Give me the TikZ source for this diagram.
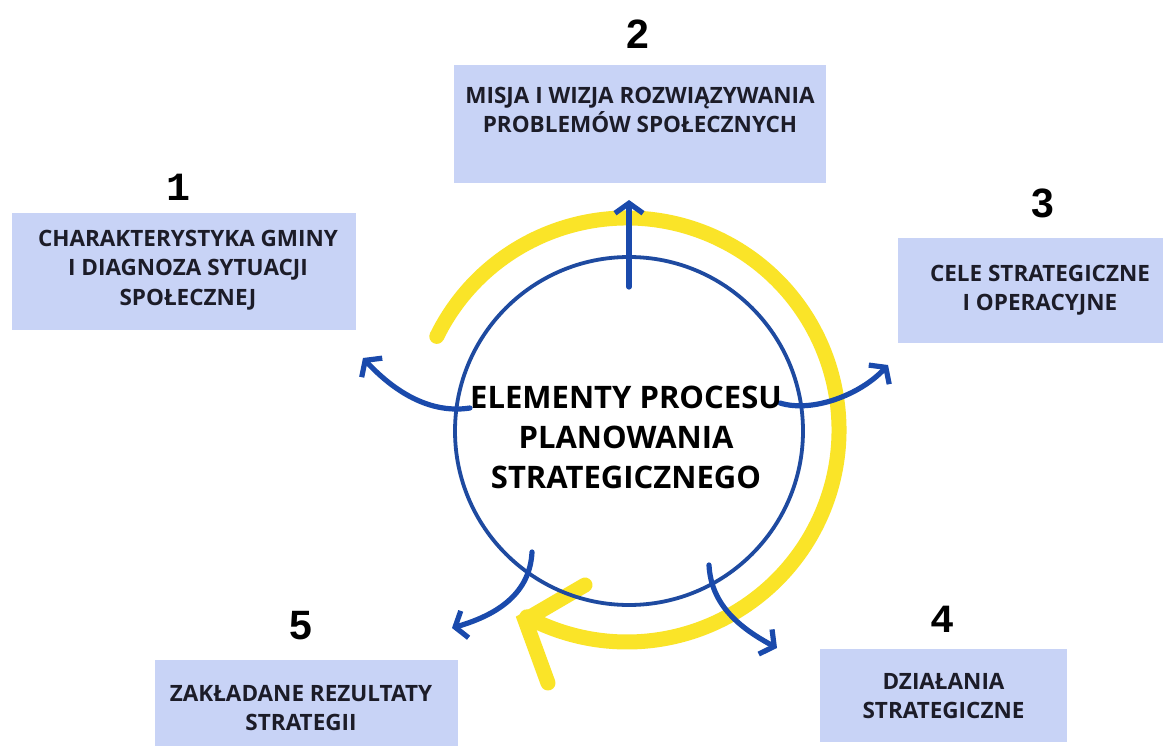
\documentclass[tikz,border=0pt]{standalone}
\usepackage{fontspec}
\setmainfont{Open Sans}
\newfontfamily\numsans{Liberation Sans}
\newfontfamily\nummono{Liberation Mono}
\usetikzlibrary{arrows.meta}
\definecolor{boxfill}{RGB}{200,211,246}
\definecolor{ringblue}{RGB}{30,74,160}
\definecolor{arrblue}{RGB}{26,74,172}
\definecolor{sunyellow}{RGB}{250,228,40}
\definecolor{txt}{RGB}{28,28,40}
\tikzset{
  box/.style={fill=boxfill, draw=none, inner sep=0pt},
  lbl/.style={align=center, text=txt, inner sep=0pt, font=\bfseries\fontsize{22.5}{29.5}\selectfont},
  numS/.style={font=\numsans\bfseries\fontsize{41}{41}\selectfont, inner sep=0pt},
  numM/.style={font=\nummono\bfseries\fontsize{40}{40}\selectfont, inner sep=0pt},
  flow/.style={draw=arrblue, line width=5.2pt, line cap=round,
    -{Straight Barb[length=10pt,width=28pt]}},
}
\begin{document}
\begin{tikzpicture}[x=1pt,y=1pt]
\useasboundingbox (0,0) rectangle (1163,-746);
\fill[white] (0,0) rectangle (1163,-746);

% boxes
\node[box, minimum width=344pt, minimum height=117pt] (b1) at (184,-271.5) {};
\node[lbl] (t1) at (188,-270) {CHARAKTERYSTYKA GMINY\\I DIAGNOZA SYTUACJI\\SPOŁECZNEJ};
\node[box, minimum width=372pt, minimum height=118pt] (b2) at (640,-124) {};
\node[lbl] (t2) at (640,-110) {MISJA I WIZJA ROZWIĄZYWANIA\\PROBLEMÓW SPOŁECZNYCH};
\node[box, minimum width=265pt, minimum height=105pt] (b3) at (1030.5,-290.5) {};
\node[lbl] (t3) at (1040,-290) {CELE STRATEGICZNE\\I OPERACYJNE};
\node[box, minimum width=247pt, minimum height=93pt] (b4) at (943.5,-695.5) {};
\node[lbl] (t4) at (943.5,-696) {DZIAŁANIA\\STRATEGICZNE};
\node[box, minimum width=303pt, minimum height=86pt] (b5) at (306.5,-703) {};
\node[lbl] (t5) at (301,-708) {ZAKŁADANE REZULTATY\\STRATEGII};

% numbers
\node[numM] (n1) at (179,-187) {1};
\node[numS] (n2) at (638,-34) {2};
\node[numS] (n3) at (1043,-203) {3};
\node[numM] (n4) at (942,-619) {4};
\node[numS] (n5) at (301,-626) {5};

% yellow cycle arrow
\coordinate (yc) at (627,-430);
\draw[sunyellow, line width=15pt, line cap=round]
  ([shift={(153.8:212)}]yc) arc[start angle=153.8, end angle=-118.2, radius=212];
\coordinate (ytip) at (525,-620);
\coordinate (yarm1) at (585,-585);
\coordinate (yarm2) at (548,-683);
\draw[sunyellow, line width=15pt, line cap=round, line join=miter] (yarm1) -- (ytip) -- (yarm2);

% blue ring
\node[circle, draw=ringblue, line width=3.8pt, minimum size=348pt, inner sep=0pt] (ring) at (629,-431) {};

% blue connectors
\coordinate (s2) at (629,-287);
\coordinate (e2) at (629,-200);
\draw[flow] (s2) -- (e2);
\coordinate (s1) at (470,-408);
\coordinate (e1) at (363,-358);
\draw[flow] (s1) .. controls (425,-415) and (388,-385) .. (e1);
\coordinate (s3) at (780,-403);
\coordinate (e3) at (888,-365);
\draw[flow] (s3) .. controls (812,-413) and (860,-395) .. (e3);
\coordinate (s5) at (532,-552);
\coordinate (e5) at (452,-628);
\draw[flow] (s5) .. controls (530,-592) and (500,-614) .. (e5);
\coordinate (s4) at (709,-565);
\coordinate (e4) at (777,-648);
\draw[flow] (s4) .. controls (711,-605) and (740,-628) .. (e4);

% centre text
\node[align=center, text=black, inner sep=0pt, font=\bfseries\fontsize{31}{40}\selectfont] (ct) at (626,-437)
  {ELEMENTY PROCESU\\PLANOWANIA\\STRATEGICZNEGO};
\end{tikzpicture}
\end{document}
